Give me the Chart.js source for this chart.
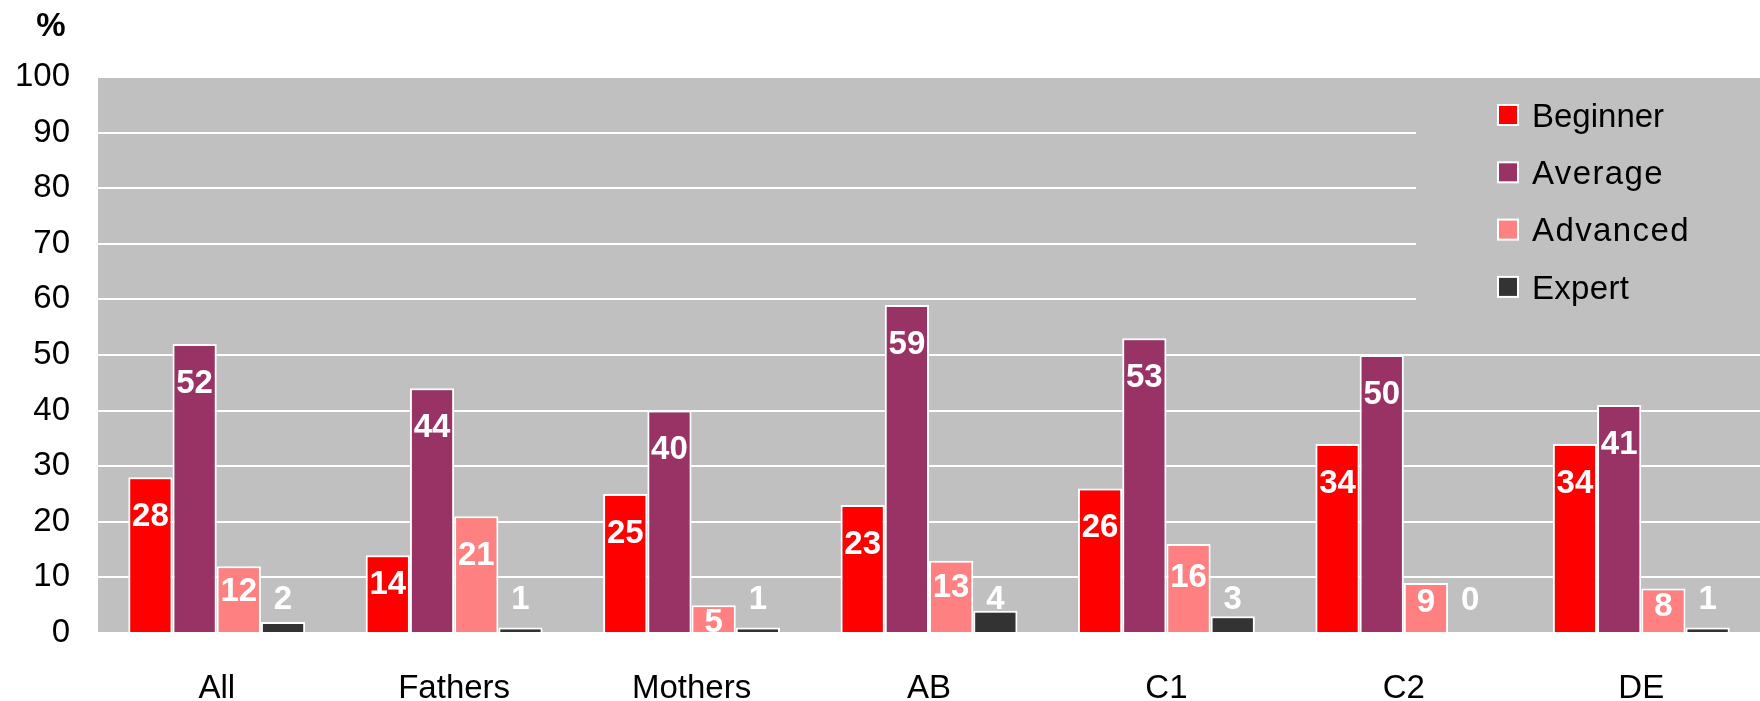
<!DOCTYPE html>
<html>
<head>
<meta charset="utf-8">
<script src="https://cdn.jsdelivr.net/npm/chart.js@4/dist/chart.umd.min.js"></script>
<style>
  html, body { margin: 0; padding: 0; background: #ffffff; }
  #wrap { width: 1760px; height: 701px; }
</style>
</head>
<body>
<div id="wrap"><canvas id="c" width="1760" height="701"></canvas></div>
<script>
// ---- data ----
const categories = ['All', 'Fathers', 'Mothers', 'AB', 'C1', 'C2', 'DE'];
const seriesNames = ['Beginner', 'Average', 'Advanced', 'Expert'];
const beginner = [28, 14, 25, 23, 26, 34, 34];
const average  = [52, 44, 40, 59, 53, 50, 41];
const advanced = [12, 21, 5, 13, 16, 9, 8];
const expert   = [2, 1, 1, 4, 3, 0, 1];
const yMin = 0, yMax = 100, yStep = 10;
const unitLabel = '%';

// ---- styles ----
const colors = ['#FF0000', '#993366', '#FF8080', '#333333'];
const legendSpacing = ['0px', '1.4px', '1.4px', '0.3px'];
const FONT = "'Liberation Sans', Arial, Helvetica, sans-serif";
const FS = 33;
const CAP = FS * 0.716 / 2; // half cap height, to centre digits/caps on a point

const seriesValues = [beginner, average, advanced, expert];
const datasets = seriesNames.map((name, i) => ({
  label: name,
  data: seriesValues[i],
  backgroundColor: colors[i],
  borderColor: '#ffffff',
  borderWidth: 2,
  borderSkipped: 'start',
  categoryPercentage: 0.745,
  barPercentage: 1.0,
  labelOutside: i === 3
}));

const plotBg = {
  id: 'plotBg',
  beforeDraw(chart) {
    const a = chart.chartArea, ctx = chart.ctx;
    ctx.save();
    ctx.fillStyle = '#C0C0C0';
    ctx.fillRect(a.left, a.top, a.right - a.left, a.bottom - a.top);
    ctx.restore();
  }
};

const legendInside = {
  id: 'legendInside',
  beforeDatasetsDraw(chart) {
    const a = chart.chartArea, ctx = chart.ctx;
    ctx.save();
    ctx.fillStyle = '#C0C0C0';
    ctx.fillRect(a.right - 344, a.top + 25, 344, 218);
    ctx.restore();
  },
  afterDraw(chart) {
    const a = chart.chartArea, ctx = chart.ctx;
    ctx.save();
    const boxX = a.right - 263, textX = a.right - 228;
    chart.data.datasets.forEach((ds, i) => {
      const cy = a.top + 38 + i * 57.3;
      ctx.fillStyle = '#ffffff';
      ctx.fillRect(boxX, cy - 11, 22, 22);
      ctx.fillStyle = ds.backgroundColor;
      ctx.fillRect(boxX + 2, cy - 9, 18, 18);
      ctx.fillStyle = '#000000';
      ctx.font = FS + 'px ' + FONT;
      ctx.textAlign = 'left';
      ctx.textBaseline = 'alphabetic';
      ctx.letterSpacing = legendSpacing[i];
      ctx.fillText(ds.label, textX, cy + CAP);
    });
    ctx.letterSpacing = '0px';
    // unit label
    ctx.font = 'bold ' + FS + 'px ' + FONT;
    ctx.textAlign = 'center';
    ctx.textBaseline = 'alphabetic';
    ctx.fillText(unitLabel, 51, 24 + CAP);
    ctx.restore();
  }
};

const valueLabels = {
  id: 'valueLabels',
  afterDatasetsDraw(chart) {
    const ctx = chart.ctx;
    ctx.save();
    ctx.font = 'bold ' + FS + 'px ' + FONT;
    ctx.textAlign = 'center';
    ctx.textBaseline = 'alphabetic';
    ctx.fillStyle = '#ffffff';
    chart.data.datasets.forEach((ds, di) => {
      const meta = chart.getDatasetMeta(di);
      meta.data.forEach((el, i) => {
        const v = ds.data[i];
        const bh = el.base - el.y;
        let cy;
        if (ds.labelOutside) {
          cy = Math.min(el.y - 13, el.base - 35);
        } else {
          cy = el.y + Math.min(37, Math.max(15, bh * 0.35));
        }
        ctx.fillText(String(v), el.x, cy + CAP);
      });
    });
    ctx.restore();
  }
};

new Chart(document.getElementById('c'), {
  type: 'bar',
  data: { labels: categories, datasets },
  options: {
    responsive: false,
    animation: false,
    devicePixelRatio: 1,
    layout: { padding: { top: 77, left: 0, right: 0, bottom: 0 } },
    plugins: {
      legend: { display: false },
      tooltip: { enabled: false },
      title: { display: false }
    },
    scales: {
      x: {
        grid: { display: false, drawTicks: false },
        border: { display: false },
        ticks: { color: '#000000', font: { family: FONT, size: FS }, padding: 36, maxRotation: 0, autoSkip: false },
        afterFit(s) { s.height = 68; }
      },
      y: {
        min: yMin, max: yMax,
        grid: { color: '#ffffff', lineWidth: 2, drawTicks: false },
        border: { display: false },
        ticks: { stepSize: yStep, color: '#000000', font: { family: FONT, size: FS }, padding: 28 },
        afterFit(s) { s.width = 98; }
      }
    }
  },
  plugins: [plotBg, legendInside, valueLabels]
});
</script>
</body>
</html>
